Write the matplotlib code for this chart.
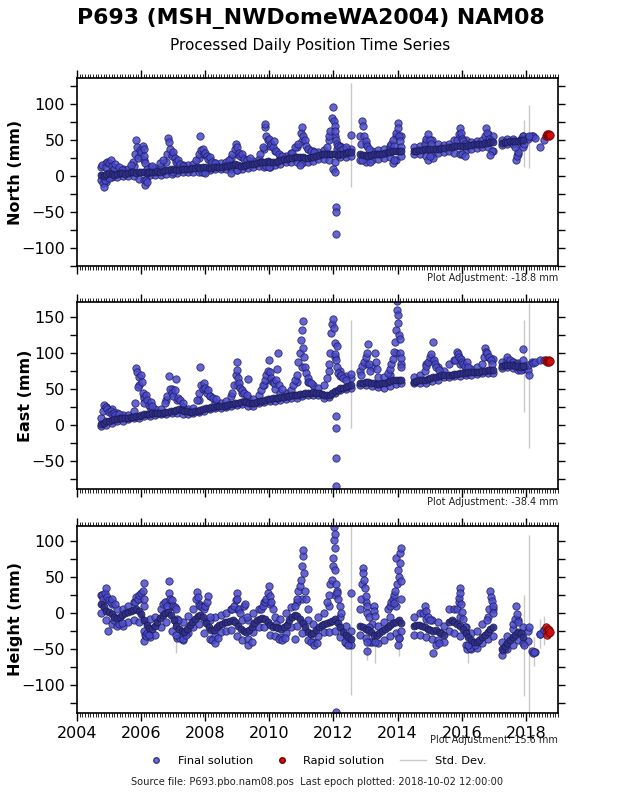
import numpy as np
import matplotlib
matplotlib.use("Agg")
import matplotlib.pyplot as plt
from matplotlib.lines import Line2D
from matplotlib.ticker import MultipleLocator

# ---------------- data (decimal years, mm) ----------------
seg_bounds = [(2004.75, 2012.55), (2012.83, 2014.12), (2014.5, 2015.45),
              (2015.6, 2016.98), (2017.25, 2017.92)]
seg_counts = [94, 16, 12, 17, 9]      # monthly core readings per segment
env_counts = [47, 8, 6, 9, 5]         # bi-monthly band-edge readings per segment

north_core = [
    2, 0, 3,
    4, 3, 2, 3, 4, 4, 3, 4, 5, 5, 4, 6,
    6, 5, 4, 5, 6, 6, 7, 6, 7, 8, 8, 9,
    9, 8, 8, 9, 10, 10, 10, 11, 11, 12, 11, 12,
    12, 11, 11, 12, 13, 13, 13, 14, 14, 15, 15, 16,
    15, 14, 14, 15, 16, 17, 17, 18, 19, 20, 20, 21,
    20, 19, 20, 21, 22, 23, 24, 25, 25, 26, 26, 27,
    26, 25, 25, 26, 27, 28, 29, 30, 30, 31, 30, 31,
    30, 29, 30, 31, 32, 33, 33,
    30, 29, 29, 28, 29, 30, 30, 31, 31, 32, 33, 33, 34, 34, 35, 35,
    35, 35, 36, 36, 37, 37, 37, 38, 38, 38, 39, 39,
    40, 40, 41, 41, 42, 42, 42, 43, 43, 44, 44, 45, 45, 46, 46, 47, 47,
    46, 47, 47, 48, 48, 49, 49, 50, 50,
]
north_hi = [
    12, 18, 14, 10, 9, 9, 14, 28, 22, 12, 11, 13, 20, 30, 20, 15, 15, 16, 25, 30,
    22, 18, 18, 20, 25, 30, 26, 22, 21, 24, 38, 42, 34, 28, 28, 32, 40, 48, 38, 34,
    33, 36, 50, 55, 42, 38, 38,
    55, 45, 35, 36, 38, 42, 55, 55,
    40, 42, 48, 50, 44, 43,
    44, 50, 55, 50, 47, 48, 50, 58, 55,
    50, 52, 52, 45, 55,
]
north_lo = [
    -6, -8, -2, -1, 0, 0, 0, -4, -6, 1, 2, 2, 3, 3, 4, 5, 6, 6, 6, 6,
    8, 9, 9, 10, 10, 8, 10, 11, 13, 14, 12, 12, 15, 17, 19, 20, 20, 18, 20, 21,
    23, 24, 22, 20, 26, 27, 28,
    22, 20, 22, 24, 25, 26, 22, 28,
    30, 30, 28, 30, 32, 33,
    35, 32, 30, 36, 38, 39, 40, 40, 35,
    43, 44, 44, 30, 40,
]
east_core = [
    2, 3, 5,
    6, 7, 8, 8, 9, 9, 10, 10, 11, 11, 12, 13,
    14, 15, 15, 15, 16, 16, 16, 17, 17, 18, 18, 19,
    20, 21, 22, 21, 20, 19, 18, 18, 19, 20, 21, 22,
    23, 24, 25, 25, 26, 26, 27, 27, 28, 29, 29, 30,
    31, 32, 33, 32, 31, 30, 31, 32, 33, 34, 35, 36,
    36, 37, 38, 38, 39, 39, 40, 40, 41, 41, 42, 43,
    43, 44, 45, 45, 46, 45, 44, 43, 42, 41, 42, 44,
    47, 49, 51, 52, 53, 54, 55,
    58, 59, 60, 60, 59, 58, 57, 57, 58, 59, 60, 61, 62, 62, 63, 63,
    60, 61, 62, 62, 63, 64, 65, 66, 67, 68, 69, 70,
    70, 70, 71, 71, 72, 72, 72, 73, 73, 74, 74, 74, 75, 75, 76, 76, 77,
    82, 83, 83, 84, 83, 82, 82, 81, 82,
]
east_hi = [
    10, 25, 22, 16, 14, 14, 20, 55, 40, 25, 22, 22, 35, 50, 35, 25, 22, 24, 35, 50,
    40, 32, 30, 33, 40, 55, 45, 38, 36, 42, 55, 62, 50, 45, 44, 48, 60, 80, 60, 55,
    52, 55, 75, 95, 75, 68, 65,
    75, 85, 80, 66, 66, 70, 100, 85,
    66, 70, 85, 90, 80, 75,
    85, 90, 85, 78, 78, 80, 85, 95, 92,
    88, 90, 88, 86, 90,
]
east_lo = [
    -2, 0, 3, 5, 6, 8, 9, 10, 12, 13, 14, 15, 15, 17, 17, 15, 15, 16, 18, 20,
    22, 23, 24, 25, 26, 28, 29, 27, 27, 30, 32, 33, 34, 35, 36, 37, 38, 40, 41, 42,
    41, 38, 39, 44, 48, 50, 52,
    55, 56, 54, 53, 52, 54, 57, 59,
    58, 58, 59, 61, 63, 66,
    66, 68, 68, 69, 70, 71, 72, 72, 72,
    79, 80, 79, 77, 78,
]
height_core = [
    12, 8, 3,
    1, -2, -5, -7, -6, -3, 0, 2, 3, 4, 5, 3,
    -2, -10, -17, -21, -22, -18, -12, -7, -3, 0, 1, -3,
    -10, -18, -22, -25, -26, -22, -16, -12, -8, -4, -3, -6,
    -14, -20, -24, -24, -20, -17, -15, -13, -12, -11, -10, -12,
    -18, -22, -25, -26, -24, -20, -14, -10, -8, -7, -8, -12,
    -16, -19, -20, -21, -22, -20, -16, -10, -6, -3, -4, -8,
    -14, -20, -26, -29, -28, -24, -20, -17, -15, -14, -13, -11,
    -9, -14, -20, -26, -30, -33, -36,
    -18, -20, -22, -24, -27, -30, -30, -28, -25, -22, -20, -17, -14, -12, -10, -14,
    -18, -17, -16, -18, -20, -22, -24, -25, -24, -26, -28, -30,
    -12, -10, -12, -15, -18, -22, -28, -34, -38, -40, -40, -38, -34, -30, -26, -22, -20,
    -50, -46, -42, -38, -34, -30, -26, -28, -33,
]
height_hi = [
    25, 18, 12, 5, 5, 10, 15, 20, 10, -8, -5, 5, 15, 10, -8, -12, -4, 5, 12, 10,
    -10, -6, -3, 0, 5, 5, -10, -10, 0, 5, 15, 12, -5, -8, 0, 8, 15, 20, -10, -15,
    -6, 0, 10, 25, -5, -18, -25,
    5, 15, -15, -18, -12, -5, 10, 20,
    -5, 0, -8, -10, -12, -18,
    5, 5, -5, -20, -28, -25, -15, -5, 5,
    -40, -32, -22, -10, -20,
]
height_lo = [
    0, -10, -15, -18, -18, -12, -10, -12, -25, -33, -30, -20, -12, -25, -35, -38, -28, -20, -15, -28,
    -36, -32, -27, -25, -24, -32, -38, -36, -26, -20, -20, -30, -32, -34, -28, -20, -18, -28, -38, -40,
    -32, -27, -26, -25, -33, -42, -45,
    -30, -35, -40, -42, -38, -32, -28, -25,
    -30, -30, -33, -36, -38, -40,
    -25, -28, -32, -45, -50, -48, -42, -36, -32,
    -58, -50, -44, -38, -42,
]

# sparse 2018 final solutions
sparse_t = [2018.05, 2018.07, 2018.18, 2018.22, 2018.27, 2018.45, 2018.55]
north_sparse = [54, 52, 55, 56, 53, 40, 50]
east_sparse = [76, 83, 88, 86, 88, 91, 90]
height_sparse = [-25, -39, -53, -55, -54, -29, -24]

# rapid solutions
rapid_t = [2018.63, 2018.65, 2018.67, 2018.69, 2018.71, 2018.73, 2018.75]
north_rapid = [56, 57, 58, 57, 56, 58, 57]
east_rapid = [90, 89, 88, 89, 90, 88, 89]
height_rapid = [-20, -25, -30, -22, -28, -24, -26]

# scattered final solutions (winter excursions / outliers)
north_extra = [
    (2004.78, 15), (2004.82, -10), (2004.85, -15), (2004.9, 12), (2004.95, 20), (2005.0, 18),
    (2005.05, 22), (2005.1, 14), (2005.15, 10), (2005.2, 16), (2005.3, 12), (2005.4, 8),
    (2004.88, -5), (2005.0, -3),
    (2005.75, 20), (2005.8, 30), (2005.85, 50), (2005.88, 40), (2005.92, 25), (2005.96, 36),
    (2006.0, 33), (2006.05, 42), (2006.08, 38), (2006.1, 28), (2006.12, 18), (2006.13, -13),
    (2006.15, -5), (2006.2, -8), (2006.18, 10), (2006.25, 5), (2005.7, 15), (2006.35, 14),
    (2006.6, 18), (2006.7, 22), (2006.8, 30), (2006.85, 53), (2006.87, 47), (2006.9, 38),
    (2006.95, 28), (2007.0, 33), (2007.05, 25), (2007.1, 20), (2007.15, 22), (2007.2, 17),
    (2007.3, 14), (2007.0, 5),
    (2007.7, 22), (2007.8, 30), (2007.84, 55), (2007.88, 36), (2007.92, 38), (2007.96, 30),
    (2008.0, 32), (2008.05, 28), (2008.1, 24), (2008.15, 26), (2008.2, 20), (2008.3, 18),
    (2007.9, 6), (2008.0, 4),
    (2008.75, 22), (2008.85, 30), (2008.92, 38), (2008.96, 45), (2009.0, 40), (2009.05, 32),
    (2009.1, 28), (2009.15, 30), (2009.2, 24), (2009.3, 22), (2009.4, 25), (2008.8, 4), (2009.0, 8),
    (2009.7, 30), (2009.8, 40), (2009.85, 68), (2009.87, 72), (2009.9, 56), (2009.95, 50),
    (2010.0, 52), (2010.05, 45), (2010.1, 40), (2010.15, 48), (2010.2, 35), (2010.3, 30),
    (2010.4, 28), (2009.9, 14), (2010.0, 12),
    (2010.7, 32), (2010.8, 40), (2010.9, 45), (2011.0, 60), (2011.03, 68), (2011.06, 55),
    (2011.1, 50), (2011.15, 42), (2011.2, 38), (2011.3, 35), (2011.4, 33), (2010.95, 15),
    (2011.8, 40), (2011.85, 55), (2011.9, 62), (2011.95, 80), (2012.0, 96), (2012.02, 76),
    (2012.04, 70), (2012.06, 62), (2012.08, 50), (2012.1, 45), (2012.12, 38), (2012.15, 42),
    (2012.2, 40), (2012.25, 36), (2011.98, 10), (2012.05, 5), (2012.07, -43), (2012.075, -50),
    (2012.07, -81), (2012.3, 38), (2012.4, 40),
    (2012.85, 45), (2012.9, 77), (2012.92, 70), (2012.95, 55), (2013.0, 48), (2013.05, 42),
    (2013.1, 38), (2013.15, 20), (2012.88, 22),
    (2013.75, 38), (2013.8, 45), (2013.85, 50), (2013.9, 42), (2013.95, 60), (2014.0, 73),
    (2014.02, 66), (2014.05, 56), (2014.08, 48), (2014.1, 40), (2013.85, 18), (2013.9, 22),
    (2014.85, 45), (2014.9, 52), (2014.95, 58), (2015.0, 50), (2015.05, 44), (2014.95, 22),
    (2015.1, 25), (2015.0, 28),
    (2015.85, 50), (2015.9, 58), (2015.94, 66), (2015.97, 60), (2016.0, 52), (2016.05, 48),
    (2016.1, 45), (2016.0, 30), (2016.1, 28),
    (2016.72, 55), (2016.77, 66), (2016.8, 60), (2016.85, 52), (2016.9, 48), (2016.95, 35),
    (2016.88, 29),
    (2017.7, 22), (2017.72, 28), (2017.75, 33), (2017.65, 40), (2017.85, 52), (2017.9, 56),
]
east_extra = [
    (2004.8, 20), (2004.85, 28), (2004.9, 25), (2004.95, 22), (2005.0, 18), (2005.05, 20),
    (2005.1, 15), (2005.15, 17), (2005.2, 14), (2005.3, 15),
    (2005.8, 30), (2005.85, 79), (2005.87, 74), (2005.9, 53), (2005.95, 67), (2006.0, 70),
    (2006.02, 60), (2006.05, 45), (2006.08, 38), (2006.1, 30), (2006.15, 42), (2006.2, 35),
    (2006.25, 28), (2006.3, 32), (2006.35, 26),
    (2006.75, 30), (2006.8, 40), (2006.86, 68), (2006.9, 50), (2006.95, 45), (2007.0, 40),
    (2007.05, 48), (2007.1, 64), (2007.15, 38), (2007.2, 35), (2007.3, 30),
    (2007.75, 35), (2007.8, 45), (2007.84, 81), (2007.88, 55), (2007.92, 50), (2007.96, 58),
    (2008.0, 52), (2008.05, 45), (2008.1, 48), (2008.15, 40), (2008.25, 38), (2008.35, 36),
    (2008.85, 45), (2008.9, 55), (2008.95, 70), (2008.98, 87), (2009.0, 77), (2009.03, 65),
    (2009.06, 58), (2009.1, 52), (2009.15, 48), (2009.2, 45), (2009.35, 64), (2009.3, 42),
    (2009.75, 48), (2009.8, 55), (2009.85, 62), (2009.9, 70), (2009.95, 75), (2010.0, 90),
    (2010.03, 74), (2010.06, 65), (2010.1, 60), (2010.15, 58), (2010.2, 62), (2010.28, 100),
    (2010.25, 78), (2010.3, 55), (2010.4, 50),
    (2010.75, 55), (2010.8, 62), (2010.85, 70), (2010.9, 88), (2010.95, 100), (2011.0, 118),
    (2011.02, 132), (2011.04, 144), (2011.06, 107), (2011.08, 95), (2011.1, 80), (2011.15, 72),
    (2011.2, 65), (2011.25, 60), (2011.3, 58),
    (2011.8, 65), (2011.85, 85), (2011.9, 100), (2011.93, 128), (2011.96, 140), (2012.0, 147),
    (2012.02, 135), (2012.04, 114), (2012.06, 98), (2012.08, 90), (2012.1, 110), (2012.12, 80),
    (2012.15, 72), (2012.2, 68), (2012.25, 70), (2012.3, 65), (2012.4, 62), (2012.07, 12),
    (2012.075, -4), (2012.07, -46), (2012.072, -85),
    (2012.85, 70), (2012.9, 82), (2012.95, 88), (2013.0, 95), (2013.05, 100), (2013.09, 112),
    (2013.12, 85), (2013.15, 75), (2013.3, 100), (2013.32, 88), (2013.35, 78),
    (2013.7, 72), (2013.75, 78), (2013.8, 85), (2013.85, 92), (2013.9, 102), (2013.93, 116),
    (2013.95, 132), (2013.97, 172), (2013.98, 160), (2014.0, 153), (2014.02, 142),
    (2014.04, 125), (2014.06, 120), (2014.08, 100), (2014.1, 93), (2014.12, 81),
    (2014.85, 75), (2014.9, 82), (2014.95, 88), (2015.0, 95), (2015.05, 98), (2015.09, 116),
    (2015.12, 90), (2015.15, 85), (2015.2, 80), (2015.3, 76),
    (2015.8, 90), (2015.84, 102), (2015.88, 98), (2015.92, 95), (2015.97, 92), (2016.0, 88),
    (2016.05, 85), (2016.1, 82), (2016.15, 88), (2016.2, 80),
    (2016.7, 95), (2016.72, 107), (2016.75, 102), (2016.8, 100), (2016.85, 95), (2016.9, 90),
    (2016.95, 85),
    (2017.4, 95), (2017.5, 90), (2017.6, 88), (2017.7, 85), (2017.92, 105), (2017.8, 78),
    (2017.85, 76),
]
height_extra = [
    (2004.78, 25), (2004.82, 20), (2004.87, 28), (2004.91, 35), (2004.95, 22), (2005.0, 18),
    (2005.05, 15), (2005.1, 20), (2005.2, 12), (2004.96, -25), (2005.15, -10), (2005.3, -15),
    (2005.4, -14),
    (2005.8, 15), (2005.85, 22), (2005.9, 20), (2005.95, 25), (2006.0, 28), (2006.05, 30),
    (2006.08, 42), (2006.1, 20), (2006.12, -30), (2006.08, -39), (2006.15, -32), (2006.2, -28),
    (2006.25, -30),
    (2006.7, 12), (2006.75, 15), (2006.8, 10), (2006.86, 44), (2006.87, 28), (2006.9, 20),
    (2006.95, 18), (2007.0, 10), (2007.05, 8), (2007.1, 5), (2007.15, -10), (2007.2, -35),
    (2007.3, -36), (2007.4, -30),
    (2007.7, 20), (2007.74, 29), (2007.78, 22), (2007.85, 10), (2007.9, 8), (2007.95, 5),
    (2008.0, 10), (2008.05, 15), (2008.1, 24), (2008.15, -5), (2008.2, -38), (2008.3, -42),
    (2008.4, -35),
    (2008.85, 5), (2008.9, 10), (2008.95, 18), (2008.98, 28), (2009.0, 19), (2009.05, 5),
    (2009.1, 0), (2009.2, 10), (2009.25, 12), (2009.3, -5), (2009.35, -44), (2009.45, -40),
    (2009.75, 5), (2009.8, 10), (2009.85, 15), (2009.9, 20), (2009.95, 28), (2009.99, 37),
    (2010.02, 24), (2010.05, 15), (2010.1, 5), (2010.2, -15), (2010.3, -36), (2010.4, -38),
    (2010.5, -35),
    (2010.8, 10), (2010.85, 20), (2010.9, 30), (2010.95, 38), (2011.0, 46), (2011.03, 65),
    (2011.05, 79), (2011.06, 88), (2011.08, 55), (2011.1, 30), (2011.15, 20), (2011.2, 5),
    (2010.8, -36), (2011.3, -40), (2011.4, -45), (2011.5, -42),
    (2011.8, 15), (2011.85, 25), (2011.9, 40), (2011.95, 46), (2011.98, 65), (2012.0, 77),
    (2012.02, 102), (2012.03, 119), (2012.04, 110), (2012.05, 90), (2012.06, 60), (2012.08, 40),
    (2012.1, 30), (2012.12, 28), (2012.15, 20), (2012.2, 10), (2012.25, 0), (2012.07, -137),
    (2012.35, -40), (2012.45, -45),
    (2012.85, 20), (2012.88, 40), (2012.91, 63), (2012.93, 56), (2012.95, 46), (2012.98, 35),
    (2013.0, 24), (2013.03, 10), (2013.06, 0), (2013.1, -5), (2013.12, -20), (2013.03, -53),
    (2013.15, -40), (2013.25, 10), (2013.27, 3), (2013.29, -4),
    (2013.7, 5), (2013.75, 10), (2013.8, 15), (2013.85, 20), (2013.88, 25), (2013.9, 14),
    (2013.93, 30), (2013.96, 77), (2013.98, 40), (2014.0, 60), (2014.03, 50), (2014.06, 70),
    (2014.08, 84), (2014.09, 91), (2014.1, 44), (2014.05, -35), (2014.0, -44),
    (2014.8, 0), (2014.85, 10), (2014.9, 3), (2014.95, -5), (2015.0, -10), (2015.11, -55),
    (2015.2, -45), (2015.3, -42),
    (2015.85, 5), (2015.9, 15), (2015.92, 21), (2015.94, 35), (2015.96, 28), (2015.98, 12),
    (2016.0, 1), (2016.05, -9), (2016.1, -20), (2016.15, -50), (2016.25, -48), (2016.4, -45),
    (2016.8, -10), (2016.85, 5), (2016.88, 31), (2016.9, 22), (2016.93, 17), (2016.96, 10),
    (2016.98, 0),
    (2017.6, -15), (2017.65, -8), (2017.7, 10), (2017.72, -2), (2017.75, -12), (2017.3, -52),
    (2017.35, -48),
]

# points with large standard deviations (time, value, sigma)
north_std = [(2012.54, 57, 72), (2017.93, 45, 33), (2018.11, 55, 44)]
east_std = [(2012.54, 71, 75), (2017.93, 82, 64), (2018.11, 69, 101)]
height_std = [(2012.54, 28, 142), (2017.93, -45, 70), (2018.11, -20, 128),
              (2007.1, -30, 25), (2013.3, -40, 30), (2014.05, -35, 25), (2016.2, -45, 25),
              (2018.25, -54, 20), (2018.45, -29, 20), (2018.55, -24, 20), (2013.05, -40, 25)]

panels = [
    ("North (mm)", north_core, north_hi, north_lo, north_sparse, north_rapid, north_extra,
     north_std, (-125, 136), [-100, -50, 0, 50, 100], "Plot Adjustment: -18.8 mm"),
    ("East (mm)", east_core, east_hi, east_lo, east_sparse, east_rapid, east_extra,
     east_std, (-89, 171), [-50, 0, 50, 100, 150], "Plot Adjustment: -38.4 mm"),
    ("Height (mm)", height_core, height_hi, height_lo, height_sparse, height_rapid, height_extra,
     height_std, (-139, 121), [-100, -50, 0, 50, 100], "Plot Adjustment: 15.6 mm"),
]

# ---------------- figure ----------------
fig = plt.figure(figsize=(6.2, 7.93), dpi=100)
fig.patch.set_facecolor("white")

boxes = [(0.9016, 0.6646), (0.6192, 0.3834), (0.3367, 0.1009)]
adj_y = [0.6494, 0.367, 0.0668]
left, right = 0.124, 0.900

face = "#4a4acc"
edge = "#1c1c5c"
dark = "#1a1a52"
stdcol = "#c8c8c8"

seg_t = [np.linspace(a, b, n) for (a, b), n in zip(seg_bounds, seg_counts)]
env_seg_t = [np.linspace(a, b, n) for (a, b), n in zip(seg_bounds, env_counts)]
core_t = np.concatenate(seg_t)
env_t = np.concatenate(env_seg_t)

for i, (lab, core, hi, lo, sparse, rapid, extra, stds, ylim, yt, adj) in enumerate(panels):
    top, bot = boxes[i]
    ax = fig.add_axes([left, bot, right - left, top - bot])
    assert len(core) == len(core_t) and len(hi) == len(env_t) and len(lo) == len(env_t)

    st, sv, ss = zip(*stds)
    ax.errorbar(st, sv, yerr=ss, fmt="none", ecolor=stdcol, elinewidth=1.0, zorder=1)

    et, ev = zip(*extra)
    allt = np.concatenate([env_t, env_t, np.array(et), np.array(sparse_t), np.array(st)])
    allv = np.concatenate([np.array(hi), np.array(lo), np.array(ev), np.array(sparse),
                           np.array(sv)])
    ax.plot(allt, allv, "o", ms=5.3, mfc=face, mec=edge, mew=0.6, alpha=0.85,
            linestyle="none", zorder=2)

    # dense core of daily solutions
    start = 0
    for tt in seg_t:
        n = len(tt)
        ax.plot(tt, core[start:start + n], "-", color=dark, lw=3.2, alpha=0.9,
                solid_capstyle="round", zorder=3)
        start += n
    ax.plot(core_t, core, "o", ms=5.0, mfc="#30308a", mec=dark, mew=0.6, alpha=0.9,
            linestyle="none", zorder=3)

    ax.plot(rapid_t, rapid, "o", ms=5.4, mfc="#d01010", mec="#700000", mew=0.6,
            alpha=0.9, linestyle="none", zorder=4)

    ax.set_xlim(2004, 2019)
    ax.set_ylim(*ylim)
    ax.set_yticks(yt)
    ax.yaxis.set_minor_locator(MultipleLocator(25))
    ax.set_xticks(np.arange(2004, 2019, 2))
    ax.xaxis.set_minor_locator(MultipleLocator(1 / 12))
    ax.tick_params(axis="both", which="both", direction="out", top=True, right=True,
                   labelsize=11.5)
    ax.tick_params(axis="x", which="major", length=6, width=1)
    ax.tick_params(axis="x", which="minor", length=3, width=0.6)
    ax.tick_params(axis="y", which="major", length=5, width=1)
    ax.tick_params(axis="y", which="minor", length=5, width=1)
    for sp in ax.spines.values():
        sp.set_linewidth(1.2)
    if i < 2:
        ax.tick_params(axis="x", labelbottom=False)
    ax.set_ylabel(lab, fontsize=11.5, fontweight="bold", labelpad=-1)
    fig.text(right, adj_y[i], adj, ha="right", va="center", fontsize=7, color="#222222")

fig.text(0.502, 0.977, "P693 (MSH_NWDomeWA2004) NAM08", ha="center", va="center",
         fontsize=15.8, fontweight="bold")
fig.text(0.5, 0.942, "Processed Daily Position Time Series", ha="center", va="center",
         fontsize=11)

handles = [
    Line2D([], [], marker="o", ls="none", ms=4, mfc=face, mec=edge, alpha=0.8),
    Line2D([], [], marker="o", ls="none", ms=4, mfc="#d01010", mec="#700000"),
    Line2D([], [], color=stdcol, lw=1.0),
]
fig.legend(handles, ["Final solution", "Rapid solution", "Std. Dev."], loc="center",
           bbox_to_anchor=(0.508, 0.0407), ncol=3, frameon=False, fontsize=8.2,
           columnspacing=1.4, handlelength=2.2)
fig.text(0.512, 0.0143,
         "Source file: P693.pbo.nam08.pos  Last epoch plotted: 2018-10-02 12:00:00",
         ha="center", va="center", fontsize=7.1, color="#222222")

fig.savefig("out.png", dpi=100)
